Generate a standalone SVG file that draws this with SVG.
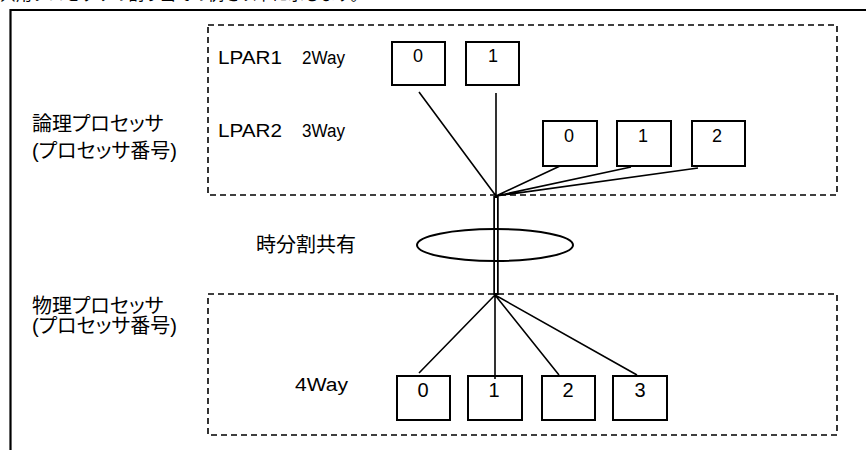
<svg xmlns="http://www.w3.org/2000/svg" width="866" height="450" viewBox="0 0 866 450">
<style>
text{font-family:"Liberation Sans","Noto Sans CJK JP",sans-serif;fill:#000}
.jp{font-size:20px;font-feature-settings:"palt"}
.lb{font-size:18px}
.num{font-size:18px;text-anchor:middle}
.num2{font-size:20px;text-anchor:middle}
.box{fill:#fff;stroke:#000;stroke-width:2}
.grp{fill:none;stroke:#000;stroke-width:1.6;stroke-dasharray:6 4}
.ln{stroke:#000;stroke-width:1.6;fill:none}
</style>
<rect width="866" height="450" fill="#fff"/>
<text x="0" y="0" style="font-size:16px">共用プロセッサの割り当ての例を以下に示します。</text>
<path d="M10.5 450V10H866" fill="none" stroke="#000" stroke-width="2.2"/>
<g id="lpar-group">
<rect class="grp" x="208" y="25" width="629" height="170"/>
<text class="lb" x="218" y="64" textLength="64" lengthAdjust="spacingAndGlyphs">LPAR1</text>
<text class="lb" x="302" y="64" textLength="43" lengthAdjust="spacingAndGlyphs">2Way</text>
<text class="lb" x="218" y="137" textLength="64" lengthAdjust="spacingAndGlyphs">LPAR2</text>
<text class="lb" x="302" y="137" textLength="43" lengthAdjust="spacingAndGlyphs">3Way</text>
</g>
<g id="phys-group">
<rect class="grp" x="208" y="294" width="629" height="141"/>
<text class="lb" x="295" y="391" textLength="53" lengthAdjust="spacingAndGlyphs">4Way</text>
</g>
<g id="label-logical"><text class="jp" x="32" y="131">論理プロセッサ</text><text class="jp" x="32" y="158">(プロセッサ番号)</text></g>
<g id="label-share"><text class="jp" x="256" y="252">時分割共有</text></g>
<g id="label-physical"><text class="jp" x="32" y="313">物理プロセッサ</text><text class="jp" x="32" y="333">(プロセッサ番号)</text></g>
<g id="connectors">
<path class="ln" d="M419 92L496 196M496 93V196M560 166L496 196M631 167L496 196M698 168L496 196"/>
<path class="ln" d="M495 295L419 373M495 295V379M495 295L559 375M495 295L637 375"/>
<path d="M496 196V295" stroke="#000" stroke-width="5.5"/>
<path d="M496 198V293" stroke="#fff" stroke-width="2"/>
<ellipse cx="495" cy="245" rx="78" ry="16" fill="none" stroke="#000" stroke-width="2"/>
</g>
<g id="l1p0"><rect class="box" x="392" y="42" width="53" height="43"/><text class="num" x="418" y="62">0</text></g>
<g id="l1p1"><rect class="box" x="466" y="42" width="53" height="43"/><text class="num" x="493" y="62">1</text></g>
<g id="l2p0"><rect class="box" x="543" y="121" width="54" height="45"/><text class="num" x="569" y="142">0</text></g>
<g id="l2p1"><rect class="box" x="617" y="121" width="54" height="45"/><text class="num" x="643" y="142">1</text></g>
<g id="l2p2"><rect class="box" x="692" y="121" width="53" height="45"/><text class="num" x="717" y="142">2</text></g>
<g id="pp0"><rect class="box" x="397" y="376" width="53" height="44"/><text class="num2" x="423" y="397">0</text></g>
<g id="pp1"><rect class="box" x="468" y="376" width="54" height="44" style="fill:none"/><text class="num2" x="494" y="397">1</text></g>
<g id="pp2"><rect class="box" x="542" y="376" width="53" height="44"/><text class="num2" x="568" y="397">2</text></g>
<g id="pp3"><rect class="box" x="613" y="376" width="54" height="44"/><text class="num2" x="640" y="397">3</text></g>
</svg>
